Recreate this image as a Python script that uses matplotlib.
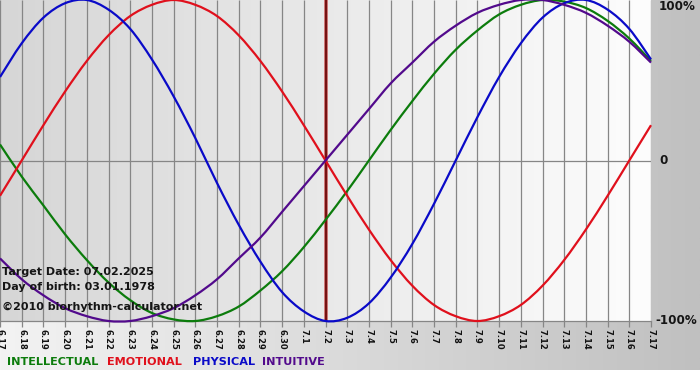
import numpy as np
import matplotlib
matplotlib.use("Agg")
import matplotlib.pyplot as plt
from matplotlib.colors import LinearSegmentedColormap
from matplotlib.path import Path
from matplotlib.patches import PathPatch

# ---------------- data ----------------
dates = ["6.17", "6.18", "6.19", "6.20", "6.21", "6.22", "6.23", "6.24", "6.25", "6.26",
         "6.27", "6.28", "6.29", "6.30", "7.1", "7.2", "7.3", "7.4", "7.5", "7.6",
         "7.7", "7.8", "7.9", "7.10", "7.11", "7.12", "7.13", "7.14", "7.15", "7.16", "7.17"]

intellectual = [0.10, -0.10, -0.28, -0.46, -0.62, -0.76, -0.87, -0.95, -0.99, -1.00,
                -0.97, -0.91, -0.81, -0.69, -0.54, -0.37, -0.19, 0.00, 0.19, 0.37,
                0.54, 0.69, 0.81, 0.91, 0.97, 1.00, 0.99, 0.95, 0.87, 0.76, 0.62]
emotional = [-0.22, 0.00, 0.22, 0.43, 0.62, 0.78, 0.90, 0.97, 1.00, 0.97,
             0.90, 0.78, 0.62, 0.43, 0.22, 0.00, -0.22, -0.43, -0.62, -0.78,
             -0.90, -0.97, -1.00, -0.97, -0.90, -0.78, -0.62, -0.43, -0.22, 0.00, 0.22]
physical = [0.52, 0.73, 0.89, 0.98, 1.00, 0.94, 0.82, 0.63, 0.40, 0.14,
            -0.14, -0.40, -0.63, -0.82, -0.94, -1.00, -0.98, -0.89, -0.73, -0.52,
            -0.27, 0.00, 0.27, 0.52, 0.73, 0.89, 0.98, 1.00, 0.94, 0.82, 0.63]
intuitive = [-0.61, -0.74, -0.84, -0.92, -0.97, -1.00, -1.00, -0.97, -0.92, -0.84,
             -0.74, -0.61, -0.48, -0.32, -0.16, 0.00, 0.16, 0.32, 0.48, 0.61,
             0.74, 0.84, 0.92, 0.97, 1.00, 1.00, 0.97, 0.92, 0.84, 0.74, 0.61]

target_date = "7.2"
series_names = ["INTELLECTUAL", "EMOTIONAL", "PHYSICAL", "INTUITIVE"]
series_colors = ["#0c7c0c", "#e0101c", "#0a0ac8", "#520a8c"]
info_lines = ["Target Date: 07.02.2025", "Day of birth: 03.01.1978",
              "\u00a92010 biorhythm-calculator.net"]
y_labels = ["100%", "0", "-100%"]


def smooth_path(xs, ys):
    """Draw the data points joined by Catmull-Rom style Bezier segments."""
    xs = np.asarray(xs, float)
    ys = np.asarray(ys, float)
    pts = np.column_stack([xs, ys])
    n = len(pts)
    verts = [pts[0]]
    codes = [Path.MOVETO]
    for i in range(n - 1):
        p0 = pts[i - 1] if i > 0 else pts[i]
        p1 = pts[i]
        p2 = pts[i + 1]
        p3 = pts[i + 2] if i + 2 < n else pts[i + 1]
        c1 = p1 + (p2 - p0) / 6.0
        c2 = p2 - (p3 - p1) / 6.0
        verts += [c1, c2, p2]
        codes += [Path.CURVE4] * 3
    return Path(verts, codes)


# ---------------- figure ----------------
W, H = 700, 380
fig = plt.figure(figsize=(W / 100, H / 100), dpi=100)
fig.patch.set_facecolor("white")

# outer gradient background
bg = fig.add_axes([0, 0, 1, 1])
bg.set_xlim(0, W)
bg.set_ylim(H, 0)
bg.axis("off")
outer = LinearSegmentedColormap.from_list("outer", ["#f3f3f3", "#c0c0c0"])
grad = np.linspace(0, 1, 256).reshape(1, -1)
bg.imshow(grad, cmap=outer, extent=(0, W, 370, 0), aspect="auto", zorder=0)
bg.set_zorder(0)

# main plot axes
x = np.arange(len(dates))
ax = fig.add_axes([0, 59 / H, 651 / W, 321 / H])
ax.set_zorder(1)
ax.set_xlim(0, len(dates) - 1)
ax.set_ylim(-1.0, 1.0)
inner = LinearSegmentedColormap.from_list("inner", ["#d6d6d6", "#fdfdfd"])
ax.imshow(grad, cmap=inner, extent=(0, len(dates) - 1, -1, 1), aspect="auto", zorder=0)

# grid
ax.vlines(x, -1, 1, color="#868686", lw=0.9, zorder=1)
ax.axhline(0, color="#868686", lw=0.9, zorder=1)

for sp in ["top", "left", "right"]:
    ax.spines[sp].set_visible(False)
ax.spines["bottom"].set_color("#868686")
ax.spines["bottom"].set_linewidth(0.9)

# target line
ti = dates.index(target_date)
ax.axvline(ti, color="#c86060", lw=2.6, zorder=2)
ax.axvline(ti, color="#6e0a0a", lw=1.3, zorder=2)

# curves
for vals, col in zip([intellectual, emotional, physical, intuitive], series_colors):
    patch = PathPatch(smooth_path(x, vals), facecolor="none", edgecolor=col,
                      lw=1.6, zorder=3, clip_on=False, transform=ax.transData)
    ax.add_patch(patch)

ax.set_xticks(x)
ax.set_xticklabels(dates, rotation=270, fontsize=6.0, fontweight="bold", color="#111111")
ax.tick_params(axis="x", length=4, width=0.9, color="#868686", pad=1.5)
ax.set_yticks([])

# info text
ys = [272, 287, 307]
for t, yy in zip(info_lines, ys):
    fig.text(2 / W, 1 - yy / H, t, fontsize=8, fontweight="bold", color="#151515",
             va="center", ha="left", zorder=5)

# right labels
fig.text(659 / W, 1 - 7 / H, y_labels[0], fontsize=8.6, fontweight="bold",
         color="#151515", va="center", ha="left")
fig.text(659 / W, 1 - 161 / H, y_labels[1], fontsize=8.6, fontweight="bold",
         color="#151515", va="center", ha="left")
fig.text(655 / W, 1 - 321 / H, y_labels[2], fontsize=8.6, fontweight="bold",
         color="#151515", va="center", ha="left")

# legend words
lx = [7, 107, 193, 262]
for name, col, xx in zip(series_names, series_colors, lx):
    fig.text(xx / W, 1 - 362 / H, name, fontsize=8.1, fontweight="bold", color=col,
             va="center", ha="left")

fig.savefig("out.png", dpi=100)
